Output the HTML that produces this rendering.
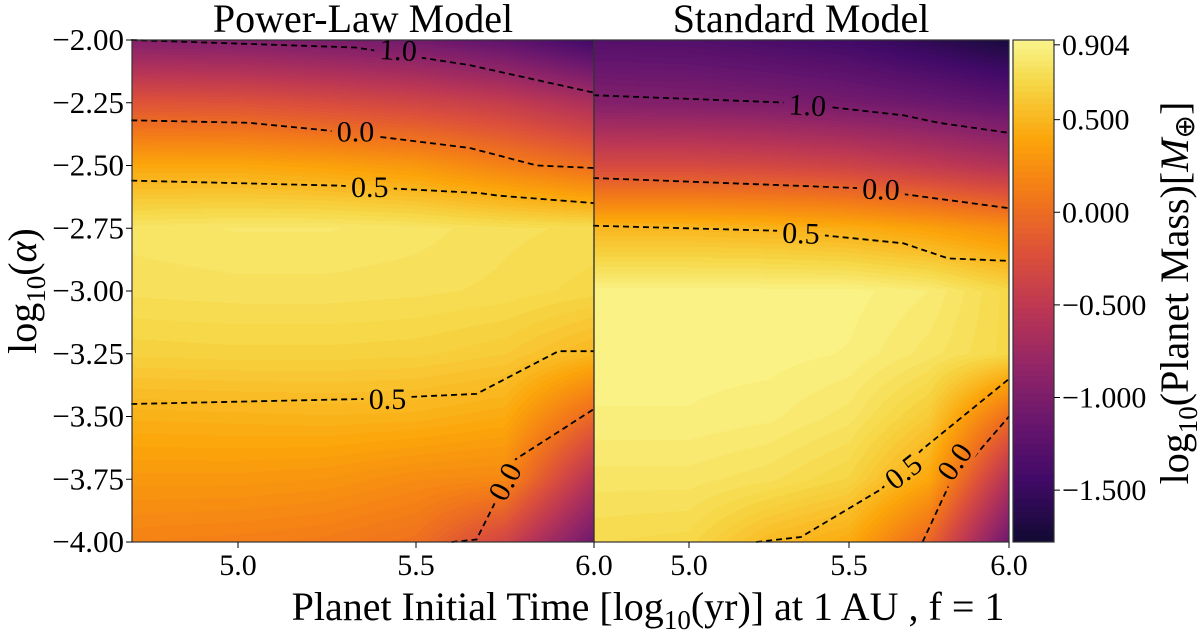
<!DOCTYPE html>
<html><head><meta charset="utf-8">
<style>
html,body{margin:0;padding:0;background:#fff;width:1200px;height:633px;overflow:hidden}
#wrap{position:relative;width:1200px;height:633px}
canvas{position:absolute}
svg{position:absolute;left:0;top:0}
text{font-family:"Liberation Serif",serif;fill:#000}
</style></head>
<body>
<div id="wrap">
<canvas id="cL" width="462" height="502" style="left:132px;top:40px"></canvas>
<canvas id="cR" width="415" height="502" style="left:594px;top:40px"></canvas>
<canvas id="cB" width="41" height="502" style="left:1013px;top:40px"></canvas>
<svg id="ov" width="1200" height="633"></svg>
</div>
<script>
// ---- data ----
const xCols = [4.7, 5.0, 5.25, 5.5, 5.75, 6.0];
const yRows = [-2.0, -2.25, -2.5, -2.75, -3.0, -3.25, -3.5, -3.75, -4.0];
const powerLawValues = [
  [-0.95, -0.97, -1.02, -1.08, -1.22, -1.45],
  [-0.2, -0.22, -0.28, -0.35, -0.45, -0.65],
  [0.4, 0.4, 0.36, 0.3, 0.15, 0.0],
  [0.8, 0.82, 0.82, 0.8, 0.76, 0.74],
  [0.76, 0.77, 0.77, 0.76, 0.74, 0.7],
  [0.66, 0.67, 0.67, 0.66, 0.62, 0.5],
  [0.46, 0.47, 0.48, 0.47, 0.42, -0.05],
  [0.3, 0.3, 0.28, 0.22, 0.2, -0.6],
  [0.15, 0.13, 0.1, 0.03, -0.35, -1.1]
];
const standardValues = [
  [-1.3, -1.32, -1.38, -1.45, -1.58, -1.72],
  [-0.95, -0.97, -1.0, -1.05, -1.12, -1.22],
  [-0.3, -0.3, -0.33, -0.38, -0.48, -0.6],
  [0.5, 0.5, 0.48, 0.44, 0.36, 0.25],
  [0.9, 0.9, 0.9, 0.9, 0.85, 0.7],
  [0.9, 0.9, 0.9, 0.88, 0.8, 0.7],
  [0.88, 0.88, 0.86, 0.8, 0.62, 0.0],
  [0.8, 0.8, 0.76, 0.68, 0.4, -0.6],
  [0.72, 0.7, 0.52, 0.42, -0.05, -1.1]
];
const vmin = -2.05, vmax = 1.0;
const cbarMin = -1.78, cbarMax = 0.93;
const yTicks = [-2.00, -2.25, -2.50, -2.75, -3.00, -3.25, -3.50, -3.75, -4.00];
const xTicks = [5.0, 5.5, 6.0];
const cbarTicks = [0.904, 0.5, 0.0, -0.5, -1.0, -1.5];
// contour lines (x = log10 yr, y = log10 alpha)
const plMinus1 = [[4.7,-2.0],[5.33,-2.03],[5.65,-2.1],[6.0,-2.21]];
const plZero = [[4.7,-2.32],[5.03,-2.33],[5.25,-2.36],[5.65,-2.43],[5.84,-2.5],[6.0,-2.51]];
const plHalfTop = [[4.7,-2.56],[5.28,-2.58],[5.68,-2.61],[5.73,-2.62],[6.0,-2.65]];
const plHalfLow = [[4.7,-3.45],[5.36,-3.43],[5.67,-3.41],[5.9,-3.24],[6.0,-3.24]];
const plZeroLow = [[5.6,-4.0],[5.67,-3.99],[5.73,-3.82],[5.78,-3.67],[6.0,-3.47]];
const stMinus1 = [[4.7,-2.22],[5.32,-2.25],[5.67,-2.30],[5.78,-2.33],[6.0,-2.37]];
const stZero = [[4.7,-2.55],[5.53,-2.59],[6.0,-2.67]];
const stHalfTop = [[4.7,-2.74],[5.28,-2.76],[5.67,-2.81],[5.81,-2.87],[6.0,-2.88]];
const stHalfLow = [[5.21,-4.0],[5.35,-3.98],[5.6,-3.79],[5.73,-3.63],[6.0,-3.35]];
const stZeroLow = [[5.73,-4.0],[5.81,-3.78],[6.0,-3.5]];
// labels: [text, x, y, rotation]
const plLabels = [["1.0",5.45,-2.04,3],["0.0",5.33,-2.365,0],["0.5",5.37,-2.585,0],["0.5",5.42,-3.43,0],["0.0",5.75,-3.76,-62]];
const stLabels = [["1.0",5.37,-2.26,3],["0.0",5.6,-2.595,2],["0.5",5.35,-2.77,2],["0.5",5.67,-3.72,-38],["0.0",5.83,-3.68,-55]];

// ---- colormap ----
const inferno = ["#000004","#160b39","#420a68","#6a176e","#932667","#bc3754","#dd513a","#f37819","#fca50a","#f6d746","#fcffa4"].map(h=>[parseInt(h.slice(1,3),16),parseInt(h.slice(3,5),16),parseInt(h.slice(5,7),16)]);
function cmap(t){t=Math.max(0,Math.min(1,t));const f=t*10,i=Math.min(9,Math.floor(f)),r=f-i;const a=inferno[i],b=inferno[i+1];return [a[0]+(b[0]-a[0])*r,a[1]+(b[1]-a[1])*r,a[2]+(b[2]-a[2])*r];}
function locate(arr,v,desc){for(let i=0;i<arr.length-1;i++){const a=arr[i],b=arr[i+1];const lo=Math.min(a,b),hi=Math.max(a,b);if(v>=lo&&v<=hi)return [i,(v-a)/(b-a)];}return v<Math.min(arr[0],arr[arr.length-1])? (desc?[arr.length-2,1]:[0,0]) : (desc?[0,0]:[arr.length-2,1]);}
function sample(grid,x,y){const [i,tx]=locate(xCols,x,false);const [j,ty]=locate(yRows,y,true);const v00=grid[j][i],v01=grid[j][i+1],v10=grid[j+1][i],v11=grid[j+1][i+1];return (v00*(1-tx)+v01*tx)*(1-ty)+(v10*(1-tx)+v11*tx)*ty;}

// ---- axes ----
const Y0=40, Y1=542;
function yPix(v){return Y0+(-2-v)/2*(Y1-Y0);}
const panels = {
  L:{x0:132,x1:594,px:v=>238+(v-5)*356},
  R:{x0:594,x1:1009,px:v=>689+(v-5)*320}
};
function drawHeat(id,grid,p){const c=document.getElementById(id),ctx=c.getContext('2d');const W=c.width,H=c.height;const img=ctx.createImageData(W,H);
 for(let py=0;py<H;py++){const yv=-2-(py+0.5)/(Y1-Y0)*2;for(let px=0;px<W;px++){const xPixAbs=p.x0+px+0.5;const xv=5+(xPixAbs-(p.px(5)))/(p.px(6)-p.px(5));
  let v=sample(grid,xv,yv);v=Math.round(v*30)/30;const col=cmap((v-vmin)/(vmax-vmin));const k=(py*W+px)*4;img.data[k]=col[0];img.data[k+1]=col[1];img.data[k+2]=col[2];img.data[k+3]=255;}}
 ctx.putImageData(img,0,0);}
drawHeat('cL',powerLawValues,panels.L);
drawHeat('cR',standardValues,panels.R);
(function(){const c=document.getElementById('cB'),ctx=c.getContext('2d');for(let py=0;py<c.height;py++){let v=cbarMax-(py+0.5)/c.height*(cbarMax-cbarMin);v=Math.round(v*30)/30;const col=cmap((v-vmin)/(vmax-vmin));ctx.fillStyle=`rgb(${col[0]|0},${col[1]|0},${col[2]|0})`;ctx.fillRect(0,py,c.width,1);}})();
function cbY(v){return 40+(cbarMax-v)/(cbarMax-cbarMin)*502;}

const NS="http://www.w3.org/2000/svg";
const svg=document.getElementById('ov');
function mk(tag,attrs,parent){const e=document.createElementNS(NS,tag);for(const k in attrs)e.setAttribute(k,attrs[k]);(parent||svg).appendChild(e);return e;}

const defs=mk('defs',{});
function contourLayer(key,lines,labels,p){
 const mask=mk('mask',{id:'m'+key,maskUnits:'userSpaceOnUse',x:0,y:0,width:1200,height:633},defs);
 mk('rect',{x:0,y:0,width:1200,height:633,fill:'#fff'},mask);
 const g=mk('g',{mask:`url(#m${key})`});
 
 
 lines.forEach((ln,idx)=>{const d=ln.map((pt,i)=>(i?'L':'M')+p.px(pt[0]).toFixed(1)+','+yPix(pt[1]).toFixed(1)).join(' ');
  const path=mk('path',{d:d,fill:'none',stroke:'#000','stroke-width':1.8,'stroke-dasharray':'6,4'},g);
  
  });
 labels.forEach(lb=>{const cx=p.px(lb[1]),cy=yPix(lb[2]);
  mk('rect',{x:-24,y:-14,width:48,height:28,fill:'#000',transform:`translate(${cx},${cy}) rotate(${lb[3]})`},mask);
  const t=mk('text',{x:0,y:10,'text-anchor':'middle','font-size':30,transform:`translate(${cx},${cy}) rotate(${lb[3]})`});
  t.textContent=lb[0];
  
  });
}
contourLayer('L',[plMinus1,plZero,plHalfTop,plHalfLow,plZeroLow],plLabels,panels.L);
contourLayer('R',[stMinus1,stZero,stHalfTop,stHalfLow,stZeroLow],stLabels,panels.R);

// frames
const fL=mk('rect',{x:132,y:40,width:462,height:502,fill:'none',stroke:'#333','stroke-width':1.2});


const fR=mk('rect',{x:594,y:40,width:415,height:502,fill:'none',stroke:'#333','stroke-width':1.2});


const fB=mk('rect',{x:1013,y:40,width:41,height:502,fill:'none',stroke:'#333','stroke-width':1.2});



// y ticks
yTicks.forEach(v=>{const y=yPix(v);mk('line',{x1:126,x2:132,y1:y,y2:y,stroke:'#000','stroke-width':1});
 const t=mk('text',{x:124,y:y+10,'text-anchor':'end','font-size':31});t.textContent='\u2212'+Math.abs(v).toFixed(2);
 
 });
// x ticks
['L','R'].forEach(k=>{const p=panels[k];xTicks.forEach(v=>{const x=p.px(v);mk('line',{x1:x,x2:x,y1:542,y2:548,stroke:'#000','stroke-width':1});
 const t=mk('text',{x:x,y:575,'text-anchor':'middle','font-size':30});t.textContent=v.toFixed(1);
 
 });});
// colorbar ticks
cbarTicks.forEach(v=>{const y=cbY(v);mk('line',{x1:1054,x2:1060,y1:y,y2:y,stroke:'#000','stroke-width':1});
 const t=mk('text',{x:1062,y:y+10,'font-size':30});t.textContent=(v<0?'\u2212':'')+Math.abs(v).toFixed(3);
 
 });
</script>
<svg width="1200" height="633" style="position:absolute;left:0;top:0;pointer-events:none">
<text x="363" y="32" text-anchor="middle" font-size="40">Power-Law Model</text>
<text x="801" y="32" text-anchor="middle" font-size="40">Standard Model</text>
<text transform="translate(36,291) rotate(-90)" text-anchor="middle" font-size="40">log<tspan font-size="27" dy="9">10</tspan><tspan dy="-9">(</tspan><tspan font-style="italic">α</tspan>)</text>
<text x="648" y="620" text-anchor="middle" font-size="40">Planet Initial Time [log<tspan font-size="27" dy="9">10</tspan><tspan dy="-9">(yr)] at 1 AU , f = 1</tspan></text>
<text transform="translate(1188,293) rotate(-90)" text-anchor="middle" font-size="40">log<tspan font-size="27" dy="9">10</tspan><tspan dy="-9">(Planet Mass)[</tspan><tspan font-style="italic">M</tspan><tspan font-size="28" dy="6">⊕</tspan><tspan dy="-6">]</tspan></text>
</svg>
</body></html>
